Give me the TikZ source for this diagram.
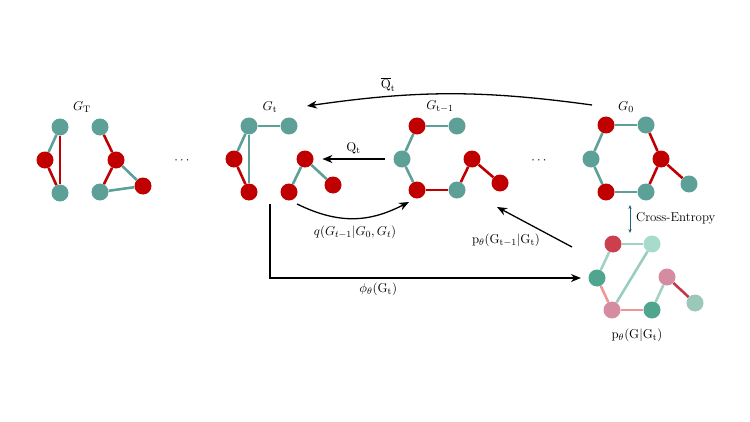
\documentclass[tikz,border=0pt]{standalone}
\usepackage{amsmath,amssymb}
\usepackage{xcolor}
\usetikzlibrary{positioning, arrows.meta}

\definecolor{gred}{RGB}{192,0,0}
\definecolor{gteal}{RGB}{92,160,152}
\definecolor{pred}{RGB}{205,62,78}
\definecolor{plteal}{RGB}{168,218,205}
\definecolor{pmteal}{RGB}{80,165,142}
\definecolor{ppink}{RGB}{214,140,160}
\definecolor{pfteal}{RGB}{155,200,186}
\definecolor{pedgeteal}{RGB}{160,210,198}
\definecolor{pedgesalmon}{RGB}{240,150,150}
\definecolor{pedgered}{RGB}{195,55,75}
\definecolor{cearrow}{RGB}{30,100,130}

\begin{document}
\begin{tikzpicture}[
    x=0.03cm, y=-0.03cm,
    font=\fontsize{11}{13}\selectfont,
    vert/.style={circle, minimum size=0.51cm, inner sep=0pt},
    rv/.style={vert, fill=gred},
    tv/.style={vert, fill=gteal},
    re/.style={draw=gred, line width=2.2pt},
    te/.style={draw=gteal, line width=2.2pt},
    flow/.style={-{Stealth[length=3mm, width=2.4mm]}, line width=1.1pt},
    ce/.style={{Stealth[length=1.2mm, width=1mm]}-{Stealth[length=1.2mm, width=1mm]}, draw=cearrow, line width=0.8pt}
]
\useasboundingbox (0,0) rectangle (750,422);

% Nodes: G_T
\node (lT) at (82,107) {$G_{\mathrm{T}}$};
\node[tv] (T1) at (60,127) {};
\node[rv] (T2) at (45,160) {};
\node[tv] (T3) at (60,193) {};
\node[tv] (T4) at (100,127) {};
\node[rv] (T5) at (116,160) {};
\node[rv] (T6) at (143,186) {};
\node[tv] (T7) at (100,192) {};
\node (dots1) at (183,161) {$\cdots$};

% Nodes: G_t
\node (lt) at (270,107) {$G_{\mathrm{t}}$};
\node[tv] (a1) at (249,126) {};
\node[tv] (a2) at (289,126) {};
\node[rv] (a3) at (234,159) {};
\node[rv] (a4) at (249,192) {};
\node[rv] (a5) at (305,159) {};
\node[rv] (a6) at (289,192) {};
\node[rv] (a7) at (333,185) {};

% Nodes: G_{t-1}
\node (ltm) at (440,107) {$G_{\mathrm{t-1}}$};
\node[rv] (b1) at (417,126) {};
\node[tv] (b2) at (457,126) {};
\node[tv] (b3) at (402,159) {};
\node[rv] (b4) at (417,190) {};
\node[tv] (b5) at (457,190) {};
\node[rv] (b6) at (472,159) {};
\node[rv] (b7) at (500,183) {};
\node (dots2) at (540,161) {$\cdots$};

% Nodes: G_0
\node (l0) at (626,107) {$G_0$};
\node[rv] (c1) at (606,125) {};
\node[tv] (c2) at (646,125) {};
\node[tv] (c3) at (591,159) {};
\node[rv] (c4) at (661,159) {};
\node[rv] (c5) at (606,192) {};
\node[tv] (c6) at (646,192) {};
\node[tv] (c7) at (689,184) {};

% Nodes: prediction
\node[vert, fill=pred] (d1) at (613,244) {};
\node[vert, fill=plteal] (d2) at (652,244) {};
\node[vert, fill=pmteal] (d3) at (597,278) {};
\node[vert, fill=ppink] (d4) at (612,310) {};
\node[vert, fill=pmteal] (d5) at (652,310) {};
\node[vert, fill=ppink] (d6) at (667,277) {};
\node[vert, fill=pfteal] (d7) at (695,303) {};
\node (lp) at (637,335) {$\mathrm{p}_\theta(\mathrm{G}|\mathrm{G}_{\mathrm{t}})$};

% Edges
\draw[te] (T1) -- (T2);
\draw[re] (T2) -- (T3);
\draw[re] (T1) -- (T3);
\draw[re] (T4) -- (T5);
\draw[re] (T5) -- (T7);
\draw[te] (T5) -- (T6);
\draw[te] (T7) -- (T6);

\draw[te] (a1) -- (a2);
\draw[te] (a1) -- (a3);
\draw[te] (a1) -- (a4);
\draw[re] (a3) -- (a4);
\draw[te] (a5) -- (a6);
\draw[te] (a5) -- (a7);

\draw[te] (b1) -- (b2);
\draw[te] (b1) -- (b3);
\draw[te] (b3) -- (b4);
\draw[re] (b4) -- (b5);
\draw[re] (b5) -- (b6);
\draw[re] (b6) -- (b7);

\draw[te] (c1) -- (c2);
\draw[te] (c1) -- (c3);
\draw[te] (c3) -- (c5);
\draw[te] (c5) -- (c6);
\draw[re] (c6) -- (c4);
\draw[re] (c4) -- (c2);
\draw[re] (c4) -- (c7);

\draw[draw=pedgeteal, line width=2.2pt] (d1) -- (d2);
\draw[draw=pedgeteal, line width=2.2pt] (d1) -- (d3);
\draw[draw=pedgesalmon, line width=2.2pt] (d3) -- (d4);
\draw[draw=pedgeteal!90!gteal, line width=2.2pt] (d4) -- (d2);
\draw[draw=pedgesalmon, line width=2.2pt] (d4) -- (d5);
\draw[draw=pedgeteal, line width=2.2pt] (d5) -- (d6);
\draw[draw=pedgered, line width=2.2pt] (d6) -- (d7);

% Arrows
\coordinate (qbs) at (592,105);
\coordinate (qbe) at (307,106);
\draw[flow] (qbs) to[bend right=8] node[pos=0.73, above] {$\overline{\mathrm{Q}}_{\mathrm{t}}$} (qbe);

\draw[flow, shorten <=2.6mm, shorten >=2.6mm] (b3) -- node[above] {$\mathrm{Q}_{\mathrm{t}}$} (a5);

\coordinate (qs) at (297,204);
\coordinate (qe) at (409,202);
\draw[flow] (qs) .. controls (340,225) and (370,222) .. (qe);
\node (lq) at (355,232) {$q(G_{t-1}|G_0,G_t)$};

\coordinate (ps) at (572,247);
\coordinate (pe) at (497,207);
\draw[flow] (ps) -- (pe);
\node (lpt) at (506,240) {$\mathrm{p}_\theta(\mathrm{G}_{\mathrm{t-1}}|\mathrm{G}_{\mathrm{t}})$};

\coordinate (phs) at (270,204);
\draw[flow, shorten >=2.2mm] (phs) |- node[pos=0.67, below] {$\phi_\theta(\mathrm{G}_{\mathrm{t}})$} (d3);

\coordinate (ces) at (630,205);
\coordinate (cee) at (630,233);
\draw[ce] (ces) -- (cee);
\node[anchor=west] (lce) at (632,218) {Cross-Entropy};

\end{tikzpicture}
\end{document}
